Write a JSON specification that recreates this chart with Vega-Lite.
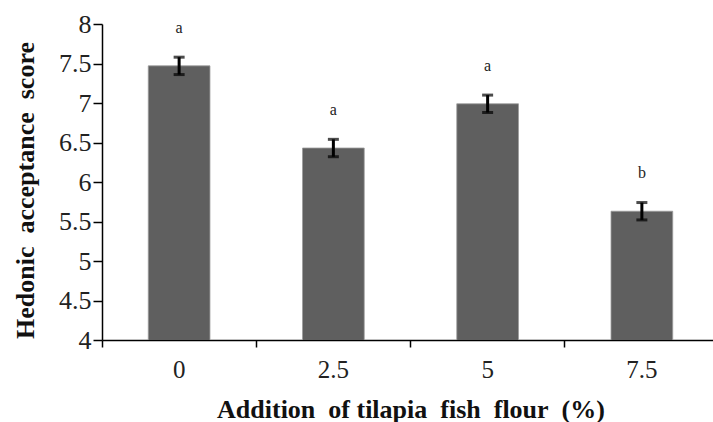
{
  "$schema": "https://vega.github.io/schema/vega-lite/v6.json",
  "width": 617,
  "height": 316,
  "autosize": {"type": "none"},
  "padding": {"left": 102, "top": 24, "right": -6, "bottom": 82},
  "background": "white",
  "config": {
    "view": {"stroke": null},
    "axis": {
      "grid": false,
      "domainColor": "black",
      "domainWidth": 1.5,
      "tickColor": "black",
      "tickWidth": 1.5,
      "labelFont": "Liberation Serif",
      "labelColor": "#222222",
      "labelOverlap": false,
      "titleFont": "Liberation Serif",
      "titleFontWeight": "bold",
      "titleColor": "#111111"
    }
  },
  "data": {
    "values": [
      {"level": "0", "score": 7.47, "se": 0.11, "group": "a"},
      {"level": "2.5", "score": 6.43, "se": 0.11, "group": "a"},
      {"level": "5", "score": 6.99, "se": 0.11, "group": "a"},
      {"level": "7.5", "score": 5.63, "se": 0.11, "group": "b"}
    ]
  },
  "encoding": {
    "x": {
      "field": "level",
      "type": "ordinal",
      "sort": null,
      "scale": {"paddingInner": 0, "paddingOuter": 0},
      "axis": {
        "bandPosition": 0,
        "labelAngle": 0,
        "tickSize": 7,
        "labelPadding": 10,
        "labelFontSize": 25,
        "title": "Addition\u00a0 of tilapia\u00a0 fish\u00a0 flour\u00a0 (%)",
        "titleFontSize": 26,
        "titleBaseline": "alphabetic",
        "titleY": 77
      }
    },
    "y": {
      "field": "score",
      "type": "quantitative",
      "title": "Hedonic\u00a0 acceptance\u00a0 score",
      "scale": {"domain": [4, 8], "nice": false, "zero": false},
      "axis": {
        "values": [4, 4.5, 5, 5.5, 6, 6.5, 7, 7.5, 8],
        "format": "~g",
        "tickSize": 9,
        "labelPadding": 2,
        "labelFontSize": 26,
        "titleFontSize": 26,
        "titleAngle": -90,
        "titleAlign": "center",
        "titleBaseline": "alphabetic",
        "titleX": -69,
        "titleY": 166
      }
    }
  },
  "layer": [
    {
      "mark": {"type": "bar", "clip": true, "width": {"band": 0.4}, "color": "#5f5f5f", "stroke": "#9a9a9a", "strokeWidth": 0.8}
    },
    {
      "mark": {
        "type": "errorbar",
        "ticks": {"size": 11, "thickness": 3, "color": "black"},
        "rule": {"strokeWidth": 3, "color": "black"}
      },
      "encoding": {
        "yError": {"field": "se"}
      }
    },
    {
      "mark": {"type": "text", "dy": -38, "font": "Liberation Serif", "fontSize": 16, "color": "#222222", "baseline": "middle"},
      "encoding": {
        "text": {"field": "group"}
      }
    }
  ]
}
